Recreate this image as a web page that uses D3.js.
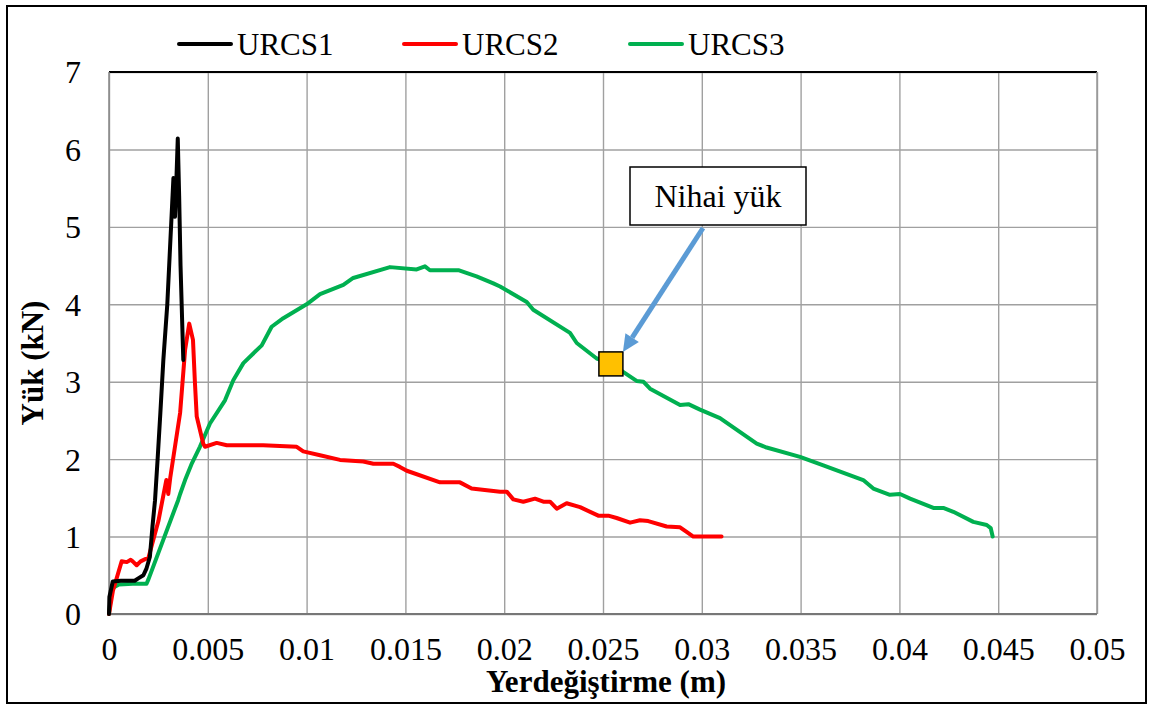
<!DOCTYPE html>
<html>
<head>
<meta charset="utf-8">
<script src="https://cdn.jsdelivr.net/npm/d3@7"></script>
<style>
  html, body { margin: 0; padding: 0; background: #fff; }
  svg { display: block; }
  svg text { font-family: 'Liberation Serif', 'DejaVu Serif', serif !important; fill: #000; }
</style>
</head>
<body>
<svg id="chart" width="1154" height="708"></svg>
<script>
// ---------- data ----------
const seriesNames = ["URCS1", "URCS2", "URCS3"];
const seriesColors = ["#000000", "#FF0000", "#00B050"];

const urcs1X = [0, 0.00002, 0.00019, 0.0006, 0.0013, 0.00148, 0.00174, 0.0019, 0.00207, 0.0022, 0.00233, 0.00246, 0.0026, 0.00275, 0.00295, 0.00314, 0.00326, 0.00331, 0.00334, 0.00341, 0.00348, 0.00355, 0.00362, 0.0037, 0.00376];
const urcs1Y = [0, 0.22, 0.42, 0.43, 0.43, 0.46, 0.5, 0.59, 0.74, 1.13, 1.47, 2.0, 2.6, 3.28, 4.0, 5.0, 5.63, 5.3, 5.13, 5.6, 6.14, 5.4, 4.5, 3.8, 3.28];

const urcs2X = [0, 0.0002, 0.00064, 0.0009, 0.0011, 0.0012, 0.0014, 0.0016, 0.002, 0.0025, 0.0029, 0.003, 0.0031, 0.0036, 0.00385, 0.00406, 0.00425, 0.00435, 0.00444, 0.0046, 0.00477, 0.00486, 0.00545, 0.00596, 0.0078, 0.0095, 0.00983, 0.01068, 0.01169, 0.01287, 0.01338, 0.01439, 0.01472, 0.01507, 0.01675, 0.01776, 0.01835, 0.01979, 0.02013, 0.02046, 0.02097, 0.02156, 0.02198, 0.02232, 0.02266, 0.02316, 0.02384, 0.02476, 0.02527, 0.02569, 0.02637, 0.02687, 0.02729, 0.02822, 0.0289, 0.02923, 0.02957, 0.031];
const urcs2Y = [0, 0.3, 0.68, 0.67, 0.7, 0.68, 0.63, 0.68, 0.73, 1.2, 1.73, 1.55, 1.76, 2.6, 3.41, 3.75, 3.54, 2.98, 2.55, 2.38, 2.2, 2.16, 2.21, 2.18, 2.18, 2.16, 2.1, 2.05, 1.99, 1.97, 1.94, 1.94, 1.9, 1.85, 1.7, 1.7, 1.62, 1.58, 1.58, 1.48, 1.45, 1.49, 1.45, 1.45, 1.36, 1.43, 1.38, 1.27, 1.27, 1.24, 1.18, 1.21, 1.2, 1.13, 1.12, 1.06, 1.0, 1.0];

const urcs3X = [0, 0.00014, 0.0005, 0.0012, 0.0019, 0.002, 0.0035, 0.0036, 0.00385, 0.0042, 0.0046, 0.00511, 0.00587, 0.00629, 0.0068, 0.00773, 0.00823, 0.00882, 0.01, 0.01068, 0.01186, 0.01236, 0.01422, 0.01557, 0.01599, 0.01624, 0.01768, 0.0186, 0.01945, 0.01979, 0.02114, 0.02147, 0.02333, 0.02367, 0.02468, 0.0254, 0.026, 0.0267, 0.02704, 0.02738, 0.0289, 0.02932, 0.02991, 0.03092, 0.03278, 0.03328, 0.03497, 0.03615, 0.03666, 0.03817, 0.03868, 0.03952, 0.04003, 0.04054, 0.04172, 0.04222, 0.04273, 0.04374, 0.04442, 0.04462, 0.04472];
const urcs3Y = [0, 0.33, 0.38, 0.39, 0.39, 0.45, 1.47, 1.55, 1.73, 1.95, 2.16, 2.46, 2.76, 3.02, 3.24, 3.47, 3.71, 3.82, 4.0, 4.13, 4.25, 4.34, 4.48, 4.45, 4.49, 4.44, 4.44, 4.36, 4.27, 4.23, 4.03, 3.93, 3.63, 3.5, 3.3, 3.24, 3.13, 3.01, 3.0, 2.91, 2.7, 2.71, 2.64, 2.53, 2.2, 2.15, 2.03, 1.92, 1.87, 1.73, 1.62, 1.54, 1.55, 1.49, 1.37, 1.37, 1.32, 1.19, 1.15, 1.11, 1.0];

const finalLoadPoint = [0.0254, 3.23];   // "Nihai yük" marker
const annotationText = "Nihai yük";

const xTickValues = [0, 0.005, 0.01, 0.015, 0.02, 0.025, 0.03, 0.035, 0.04, 0.045, 0.05];
const xTickLabels = ["0", "0.005", "0.01", "0.015", "0.02", "0.025", "0.03", "0.035", "0.04", "0.045", "0.05"];
const yTickValues = [0, 1, 2, 3, 4, 5, 6, 7];
const yTickLabels = ["0", "1", "2", "3", "4", "5", "6", "7"];
const xTitle = "Yerdeğiştirme (m)";
const yTitle = "Yük (kN)";

// ---------- layout ----------
const FONT = "'Liberation Serif', 'DejaVu Serif', serif";
const W = 1154, H = 708;
const plot = { left: 109, right: 1097, top: 72, bottom: 614 };

const svg = d3.select("#chart");
svg.append("rect").attr("x", 0).attr("y", 0).attr("width", W).attr("height", H).attr("fill", "#fff");
// outer frame
svg.append("rect").attr("x", 7).attr("y", 6).attr("width", 1139).attr("height", 697)
  .attr("fill", "none").attr("stroke", "#000").attr("stroke-width", 2);

const x = d3.scaleLinear().domain([0, 0.05]).range([plot.left, plot.right]);
const y = d3.scaleLinear().domain([0, 7]).range([plot.bottom, plot.top]);

// gridlines
const gridColor = "#a0a0a0";
const gx = svg.append("g").attr("transform", `translate(0,${plot.bottom})`)
  .call(d3.axisBottom(x).tickValues(xTickValues).tickSize(-(plot.bottom - plot.top)).tickFormat(""));
gx.select(".domain").remove();
gx.selectAll("line").attr("stroke", gridColor).attr("stroke-width", 1.4);

const gy = svg.append("g").attr("transform", `translate(${plot.left},0)`)
  .call(d3.axisLeft(y).tickValues(yTickValues).tickSize(-(plot.right - plot.left)).tickFormat(""));
gy.select(".domain").remove();
gy.selectAll("line").attr("stroke", gridColor).attr("stroke-width", 1.4);

// plot border: top black, axes gray
svg.append("line").attr("x1", plot.left).attr("x2", plot.right).attr("y1", plot.top).attr("y2", plot.top)
  .attr("stroke", "#000").attr("stroke-width", 2);
svg.append("line").attr("x1", plot.right).attr("x2", plot.right).attr("y1", plot.top).attr("y2", plot.bottom)
  .attr("stroke", "#999").attr("stroke-width", 1.5);
svg.append("line").attr("x1", plot.left).attr("x2", plot.left).attr("y1", plot.top).attr("y2", plot.bottom)
  .attr("stroke", "#888").attr("stroke-width", 1.5);
svg.append("line").attr("x1", plot.left).attr("x2", plot.right).attr("y1", plot.bottom).attr("y2", plot.bottom)
  .attr("stroke", "#777").attr("stroke-width", 2);

// tick labels
const ax = svg.append("g").attr("transform", `translate(0,${plot.bottom})`)
  .call(d3.axisBottom(x).tickValues(xTickValues).tickSize(0).tickPadding(0)
    .tickFormat((d, i) => xTickLabels[i]));
ax.attr("font-family", FONT).attr("font-size", 32);
ax.select(".domain").remove();
ax.selectAll("text").style("font-family", FONT).attr("font-size", 32)
  .attr("dy", null).attr("y", 46).attr("fill", "#000");

const ay = svg.append("g").attr("transform", `translate(${plot.left},0)`)
  .call(d3.axisLeft(y).tickValues(yTickValues).tickSize(0).tickPadding(0)
    .tickFormat((d, i) => yTickLabels[i]));
ay.attr("font-family", FONT).attr("font-size", 32);
ay.select(".domain").remove();
ay.selectAll("text").style("font-family", FONT).attr("font-size", 32)
  .attr("x", -28).attr("dy", "0.34em").attr("fill", "#000");

// axis titles
svg.append("text").attr("x", 606).attr("y", 692).attr("text-anchor", "middle")
  .style("font-family", FONT).attr("font-size", 31).attr("font-weight", "bold").text(xTitle);
svg.append("text").attr("transform", "translate(43,363) rotate(-90)").attr("text-anchor", "middle")
  .style("font-family", FONT).attr("font-size", 31).attr("font-weight", "bold").text(yTitle);

// series lines
const seriesData = [
  urcs1X.map((v, i) => [v, urcs1Y[i]]),
  urcs2X.map((v, i) => [v, urcs2Y[i]]),
  urcs3X.map((v, i) => [v, urcs3Y[i]])
];
const line = d3.line().x(d => x(d[0])).y(d => y(d[1])).curve(d3.curveLinear);
const drawOrder = [2, 1, 0];
drawOrder.forEach(k => {
  svg.append("path").datum(seriesData[k]).attr("d", line)
    .attr("fill", "none").attr("stroke", seriesColors[k]).attr("stroke-width", 4)
    .attr("stroke-linejoin", "round").attr("stroke-linecap", "round");
});

// legend
const legendLineX = [179, 404, 630];
seriesNames.forEach((name, i) => {
  const lx = legendLineX[i];
  svg.append("line").attr("x1", lx).attr("x2", lx + 52).attr("y1", 44).attr("y2", 44)
    .attr("stroke", seriesColors[i]).attr("stroke-width", 4).attr("stroke-linecap", "round");
  svg.append("text").attr("x", lx + 58).attr("y", 55).style("font-family", FONT)
    .attr("font-size", 31).text(name);
});

// final load marker
const mx = x(finalLoadPoint[0]), my = y(finalLoadPoint[1]);
const ms = 24;
svg.append("rect").attr("x", mx - ms / 2).attr("y", my - ms / 2).attr("width", ms).attr("height", ms)
  .attr("fill", "#FFC000").attr("stroke", "#000").attr("stroke-width", 1.5);

// annotation box + arrow
const box = { x: 630, y: 167, w: 176, h: 58 };
const tail = [703, box.y + box.h + 3];
const tip = [mx + ms / 2, my - ms / 2];
const ang = Math.atan2(tip[1] - tail[1], tip[0] - tail[0]);
const headLen = 17, headHalf = 8;
const baseX = tip[0] - headLen * Math.cos(ang), baseY = tip[1] - headLen * Math.sin(ang);
svg.append("line").attr("x1", tail[0]).attr("y1", tail[1]).attr("x2", baseX).attr("y2", baseY)
  .attr("stroke", "#5B9BD5").attr("stroke-width", 5);
svg.append("polygon").attr("fill", "#5B9BD5").attr("points", [
  [tip[0], tip[1]],
  [baseX + headHalf * Math.sin(ang), baseY - headHalf * Math.cos(ang)],
  [baseX - headHalf * Math.sin(ang), baseY + headHalf * Math.cos(ang)]
].map(p => p.join(",")).join(" "));

svg.append("rect").attr("x", box.x).attr("y", box.y).attr("width", box.w).attr("height", box.h)
  .attr("fill", "#fff").attr("stroke", "#000").attr("stroke-width", 1.5);
svg.append("text").attr("x", box.x + box.w / 2).attr("y", 207).attr("text-anchor", "middle")
  .style("font-family", FONT).attr("font-size", 32).text(annotationText);
</script>
</body>
</html>
